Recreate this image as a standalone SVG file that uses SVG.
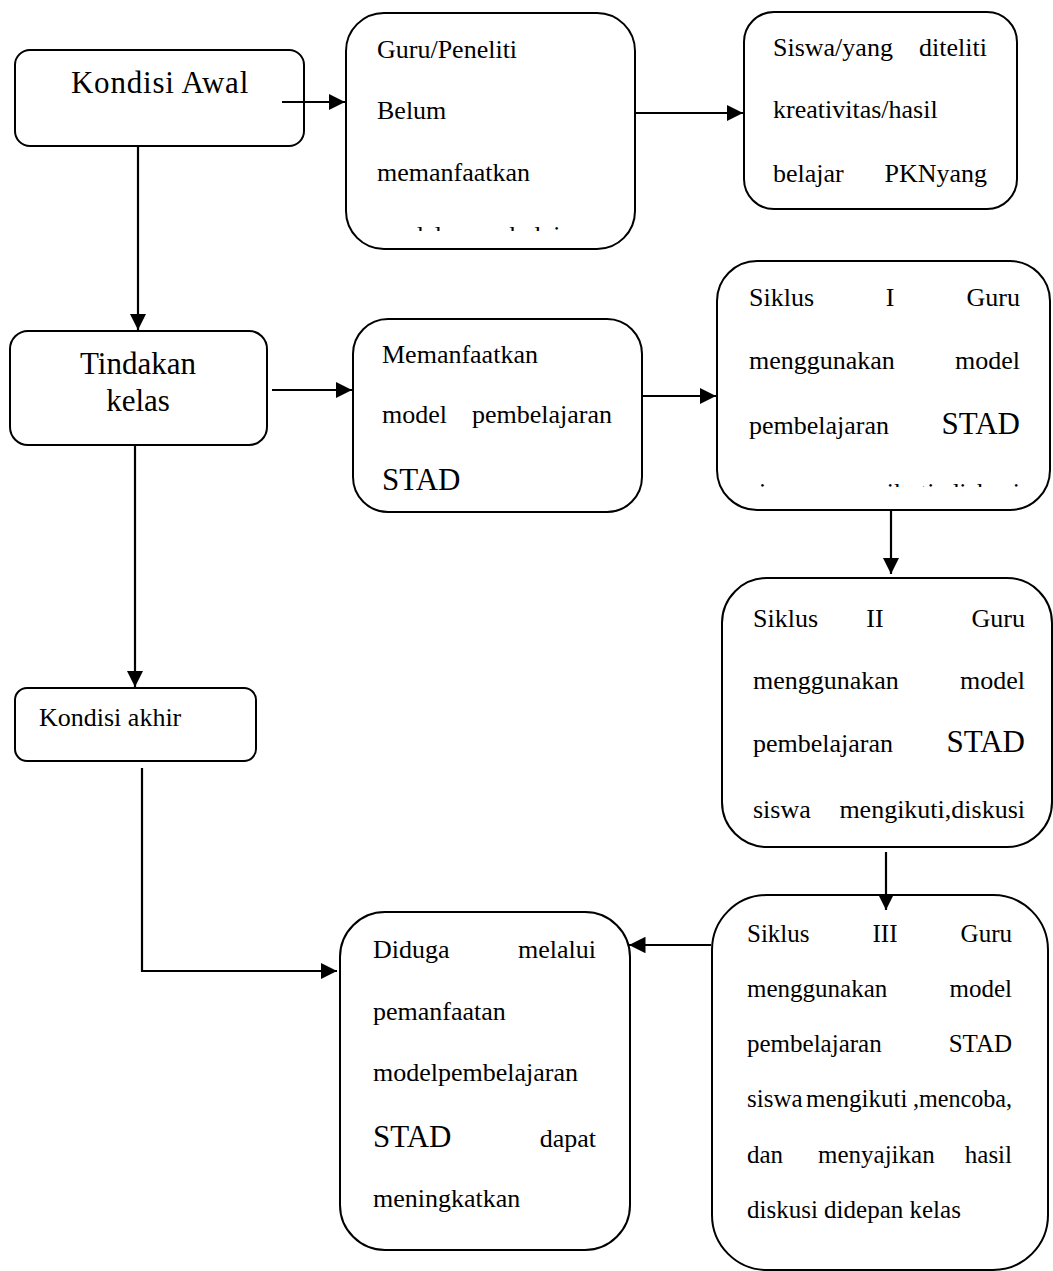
<svg xmlns="http://www.w3.org/2000/svg" width="1053" height="1271" viewBox="0 0 1053 1271">
<style>
.box{fill:#fff;stroke:#000;stroke-width:2}
.t{font-family:"Liberation Serif","Times New Roman",serif;fill:#000;font-size:26px}
.big{font-size:31px}
.sm{font-size:25px}
.e{text-anchor:end}
.m{text-anchor:middle}
.c{fill:none;stroke:#000;stroke-width:2.2}
</style>
<defs>
<marker id="ah" viewBox="0 0 10 10" refX="10" refY="5" markerWidth="7.5" markerHeight="7.5" markerUnits="strokeWidth" orient="auto">
<path d="M0,0 L10,5 L0,10 Z" fill="#000"/>
</marker>
<clipPath id="clipA"><rect x="340" y="10" width="300" height="221"/></clipPath>
<clipPath id="clipB"><rect x="710" y="255" width="343" height="232"/></clipPath>
</defs>

<g id="kondisi-awal">
<rect class="box" x="15" y="50" width="289" height="96" rx="15"/>
<text class="t big m" x="160" y="93" letter-spacing="0.8">Kondisi Awal</text>
</g>

<g id="guru-peneliti">
<rect class="box" x="346" y="13" width="289" height="236" rx="38"/>
<text class="t" x="377" y="58">Guru/Peneliti</text>
<text class="t" x="377" y="119">Belum</text>
<text class="t" x="377" y="181">memanfaatkan</text>
<g clip-path="url(#clipA)">
<text class="t" x="377" y="244">model</text>
<text class="t e" x="605" y="244">pembelajaran</text>
</g>
</g>

<g id="siswa-diteliti">
<rect class="box" x="744" y="12" width="273" height="197" rx="30"/>
<text class="t" x="773" y="56">Siswa/yang</text>
<text class="t e" x="987" y="56">diteliti</text>
<text class="t" x="773" y="118">kreativitas/hasil</text>
<text class="t" x="773" y="182">belajar</text>
<text class="t e" x="987" y="182">PKNyang</text>
</g>

<g id="tindakan-kelas">
<rect class="box" x="10" y="331" width="257" height="114" rx="18"/>
<text class="t big m" x="138" y="374">Tindakan</text>
<text class="t big m" x="138" y="411">kelas</text>
</g>

<g id="memanfaatkan">
<rect class="box" x="353" y="319" width="289" height="193" rx="35"/>
<text class="t" x="382" y="363">Memanfaatkan</text>
<text class="t" x="382" y="423">model</text>
<text class="t e" x="612" y="423">pembelajaran</text>
<text class="t big" x="382" y="490">STAD</text>
</g>

<g id="siklus-1">
<rect class="box" x="717" y="261" width="333" height="249" rx="40"/>
<text class="t" x="749" y="306">Siklus</text>
<text class="t m" x="890" y="306">I</text>
<text class="t e" x="1020" y="306">Guru</text>
<text class="t" x="749" y="369">menggunakan</text>
<text class="t e" x="1020" y="369">model</text>
<text class="t" x="749" y="434">pembelajaran</text>
<text class="t big e" x="1020" y="434">STAD</text>
<g clip-path="url(#clipB)">
<text class="t" x="749" y="501">siswa</text>
<text class="t m" x="885" y="501">mengikuti,</text>
<text class="t e" x="1020" y="501">diskusi</text>
</g>
</g>

<g id="kondisi-akhir">
<rect class="box" x="15" y="688" width="241" height="73" rx="12"/>
<text class="t" x="39" y="726">Kondisi akhir</text>
</g>

<g id="siklus-2">
<rect class="box" x="722" y="578" width="330" height="269" rx="45"/>
<text class="t" x="753" y="627">Siklus</text>
<text class="t m" x="875" y="627">II</text>
<text class="t e" x="1025" y="627">Guru</text>
<text class="t" x="753" y="689">menggunakan</text>
<text class="t e" x="1025" y="689">model</text>
<text class="t" x="753" y="752">pembelajaran</text>
<text class="t big e" x="1025" y="752">STAD</text>
<text class="t" x="753" y="818">siswa</text>
<text class="t e" x="1025" y="818">mengikuti,diskusi</text>
</g>

<g id="siklus-3">
<rect class="box" x="712" y="895" width="336" height="375" rx="55"/>
<text class="t sm" x="747" y="942">Siklus</text>
<text class="t sm m" x="885" y="942">III</text>
<text class="t sm e" x="1012" y="942">Guru</text>
<text class="t sm" x="747" y="997">menggunakan</text>
<text class="t sm e" x="1012" y="997">model</text>
<text class="t sm" x="747" y="1052">pembelajaran</text>
<text class="t sm e" x="1012" y="1052">STAD</text>
<text class="t sm" x="747" y="1107">siswa</text>
<text class="t sm" x="806" y="1107">mengikuti</text>
<text class="t sm" x="913" y="1107" textLength="99" lengthAdjust="spacingAndGlyphs">,mencoba,</text>
<text class="t sm" x="747" y="1163">dan</text>
<text class="t sm" x="818" y="1163">menyajikan</text>
<text class="t sm e" x="1012" y="1163">hasil</text>
<text class="t sm" x="747" y="1218">diskusi didepan kelas</text>
</g>

<g id="diduga">
<rect class="box" x="340" y="912" width="290" height="338" rx="45"/>
<text class="t" x="373" y="958">Diduga</text>
<text class="t e" x="596" y="958">melalui</text>
<text class="t" x="373" y="1020">pemanfaatan</text>
<text class="t" x="373" y="1081">modelpembelajaran</text>
<text class="t big" x="373" y="1147">STAD</text>
<text class="t e" x="596" y="1147">dapat</text>
<text class="t" x="373" y="1207">meningkatkan</text>
</g>

<g id="connectors">
<line class="c" x1="282" y1="102" x2="345" y2="102" marker-end="url(#ah)"/>
<line class="c" x1="636" y1="113" x2="743" y2="113" marker-end="url(#ah)"/>
<line class="c" x1="138" y1="147" x2="138" y2="330" marker-end="url(#ah)"/>
<line class="c" x1="272" y1="390" x2="352" y2="390" marker-end="url(#ah)"/>
<line class="c" x1="643" y1="396" x2="716" y2="396" marker-end="url(#ah)"/>
<line class="c" x1="135" y1="446" x2="135" y2="687" marker-end="url(#ah)"/>
<line class="c" x1="891" y1="511" x2="891" y2="574" marker-end="url(#ah)"/>
<line class="c" x1="886" y1="852" x2="886" y2="910" marker-end="url(#ah)"/>
<line class="c" x1="711" y1="945" x2="629" y2="945" marker-end="url(#ah)"/>
<polyline class="c" points="142,768 142,971 337,971" marker-end="url(#ah)"/>
</g>
</svg>
